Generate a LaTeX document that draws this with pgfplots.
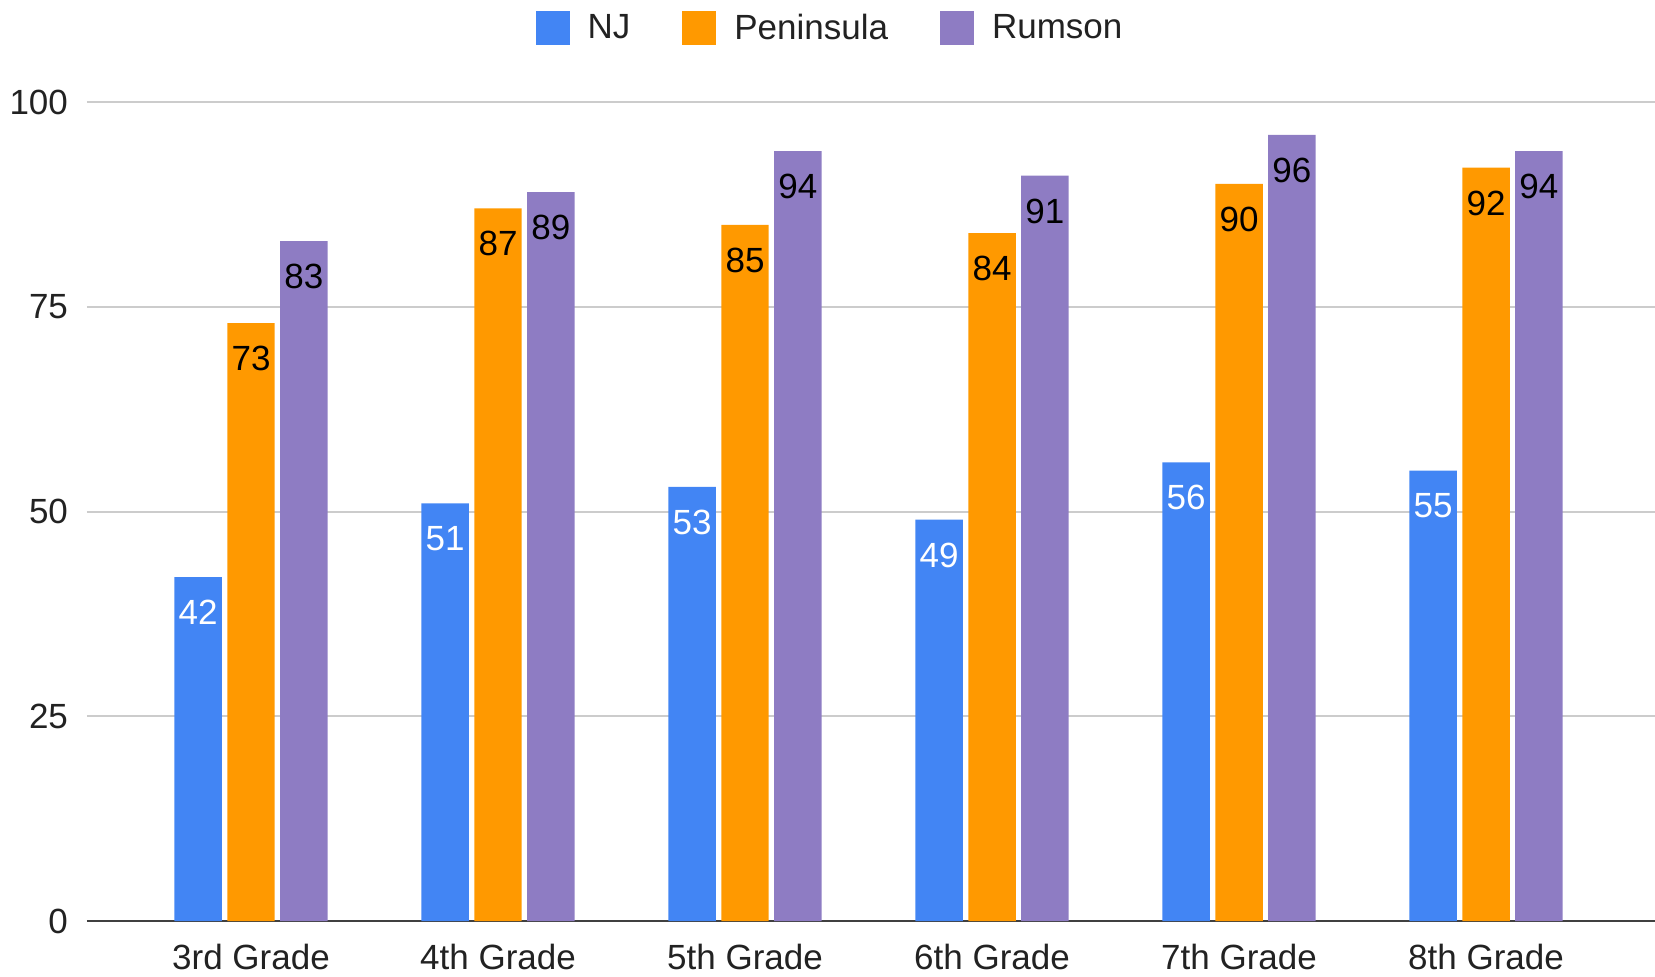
\documentclass[border=0pt]{standalone}
\usepackage{pgfplots}
\pgfplotsset{compat=1.18}
\usepackage{fontspec}
\setmainfont{Liberation Sans}
\definecolor{cNJ}{HTML}{4285F4}
\definecolor{cPen}{HTML}{FF9900}
\definecolor{cRum}{HTML}{8E7CC3}
\definecolor{gridc}{HTML}{CCCCCC}
\definecolor{txt}{HTML}{222222}
\begin{document}
\begin{tikzpicture}
\useasboundingbox (-43.5pt,-27.5pt) rectangle (784pt,460.5pt);
\begin{axis}[
  scale only axis,
  width=784pt, height=409.5pt,
  ymin=0, ymax=100,
  xmin=-0.664, xmax=5.684,
  ytick={0,25,50,75,100},
  xtick={0,1,2,3,4,5},
  xticklabels={3rd Grade,4th Grade,5th Grade,6th Grade,7th Grade,8th Grade},
  major tick length=0pt,
  ymajorgrids,
  grid style={gridc, line width=1pt},
  axis x line*=bottom,
  axis y line*=left,
  x axis line style={-, draw=black!75, line width=1.2pt},
  y axis line style={draw=none},
  /pgf/number format/assume math mode=true,
  tick label style={font=\fontsize{17.5}{20}\selectfont, text=txt},
  yticklabel style={xshift=-6pt},
  xticklabel style={yshift=-8pt},
  ybar, bar width=0.192,
  nodes near coords,
  every node near coord/.append style={font=\fontsize{17.5}{20}\selectfont, anchor=north, yshift=-8pt},
  legend columns=3,
  legend style={draw=none, at={(0.4745,1)}, anchor=center, yshift=37pt,
    font=\fontsize{17.5}{20}\selectfont, text=txt,
    /tikz/every odd column/.append style={column sep=7pt},
    /tikz/every even column/.append style={column sep=24pt}},
  legend image code/.code={\fill[#1] (0pt,-8.5pt) rectangle (17pt,8.5pt);},
]
\addplot[fill=cNJ, draw=none, bar shift=-0.214, every node near coord/.append style={text=white}]
  coordinates {(0,42) (1,51) (2,53) (3,49) (4,56) (5,55)};
\addlegendentry{NJ}
\addplot[fill=cPen, draw=none, bar shift=0, every node near coord/.append style={text=black}]
  coordinates {(0,73) (1,87) (2,85) (3,84) (4,90) (5,92)};
\addlegendentry{Peninsula}
\addplot[fill=cRum, draw=none, bar shift=0.214, every node near coord/.append style={text=black}]
  coordinates {(0,83) (1,89) (2,94) (3,91) (4,96) (5,94)};
\addlegendentry{Rumson}
\end{axis}
\end{tikzpicture}
\end{document}
